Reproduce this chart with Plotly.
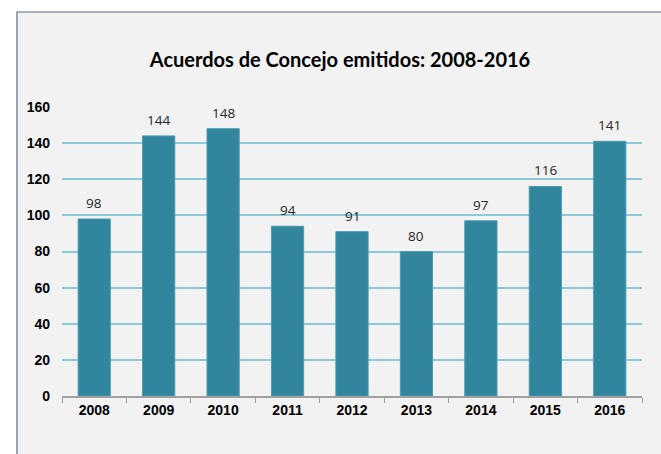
import plotly.graph_objects as go

years = ["2008", "2009", "2010", "2011", "2012", "2013", "2014", "2015", "2016"]
acuerdos = [98, 144, 148, 94, 91, 80, 97, 116, 141]
y_ticks = [0, 20, 40, 60, 80, 100, 120, 140, 160]

W, H = 661, 454
L, R, T, B = 62, 19, 107, 58
pw, ph = W - L - R, H - T - B

def px_x(px):
    return (px - L) / pw

def px_y(py):
    return (H - B - py) / ph

fig = go.Figure()
fig.add_trace(go.Bar(
    x=years, y=acuerdos,
    marker=dict(color="#31859c", line=dict(width=1, color="#4d9bb0")),
    width=0.5,
    hoverinfo="x+y",
))

for i, v in enumerate(acuerdos):
    fig.add_annotation(x=i, y=v, text=str(v), showarrow=False,
                       xanchor="center", yanchor="bottom", yshift=5,
                       font=dict(family="Open Sans, Lato, sans-serif", size=13.5, color="#262626"))

fig.add_shape(type="rect", xref="paper", yref="paper",
              x0=px_x(17), x1=px_x(720), y0=px_y(520), y1=px_y(12),
              fillcolor="#f2f2f2", line=dict(color="#5a6b80", width=1.2),
              layer="below")

fig.update_layout(
    width=W, height=H,
    margin=dict(l=L, r=R, t=T, b=B),
    paper_bgcolor="white",
    plot_bgcolor="rgba(0,0,0,0)",
    showlegend=False,
    bargap=0.5,
    title=dict(text="<b>Acuerdos de Concejo emitidos: 2008-2016</b>",
               x=(340) / W, xanchor="center", y=1 - 60 / H, yanchor="middle",
               font=dict(family="Lato, Open Sans, sans-serif", size=20, color="#000000")),
    xaxis=dict(
        type="category", categoryorder="array", categoryarray=years,
        range=[-0.5, len(years) - 0.5],
        showline=True, linecolor="#a0a0a0", linewidth=1.5,
        ticks="outside", tickson="boundaries", ticklen=5, tickcolor="#a0a0a0",
        tickfont=dict(family="Liberation Sans, Arial, sans-serif", size=14, color="#000000"),
        showgrid=False,
    ),
    yaxis=dict(
        range=[0, 160], tickvals=y_ticks,
        showgrid=True, gridcolor="#8ec9da", gridwidth=1.5,
        zeroline=False, showline=False,
        ticks="", ticklabelstandoff=11,
        tickfont=dict(family="Liberation Sans, Arial, sans-serif", size=14, color="#000000"),
    ),
)
fig.update_xaxes(tickfont_weight="bold")
fig.update_yaxes(tickfont_weight="bold")

fig.write_html("out.html", config={"displayModeBar": False},
               post_script="document.body.style.margin='0';document.body.style.overflow='hidden';")
